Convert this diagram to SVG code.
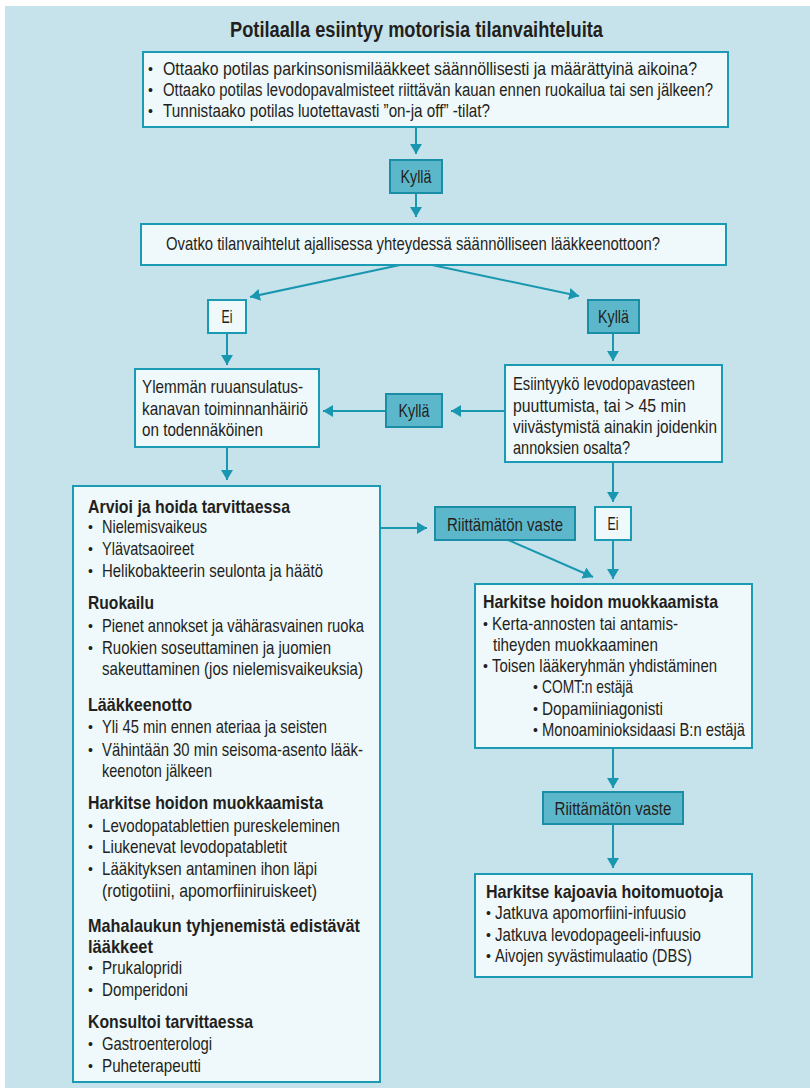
<svg xmlns="http://www.w3.org/2000/svg" width="810" height="1088" viewBox="0 0 810 1088">
<defs>
<style>
.bg{fill:#c6e3eb}
.box{fill:#eff8fa;stroke:#1b9bb3;stroke-width:2}
.lbl{fill:#5db7cb;stroke:#1a8ea7;stroke-width:2}
text{font-family:"Liberation Sans",Arial,sans-serif;font-size:19px;fill:#231f20}
.b{font-weight:bold}
.ttl{font-size:22px;font-weight:bold}
.bu{font-size:14px}
.c{text-anchor:middle}
.conn line{stroke:#1a97b0;stroke-width:2;fill:none;marker-end:url(#ah)}
</style>
<marker id="ah" viewBox="0 0 10 12" refX="10" refY="6" markerWidth="10" markerHeight="12" markerUnits="userSpaceOnUse" orient="auto">
<path d="M0,0 L10,6 L0,12 z" fill="#1a97b0"/>
</marker>
</defs>
<rect class="bg" x="5" y="6" width="805" height="1082"/>
<text class="ttl" x="230" y="37" textLength="373" lengthAdjust="spacingAndGlyphs">Potilaalla esiintyy motorisia tilanvaihteluita</text>

<g id="conn" class="conn">
<line x1="416" y1="127" x2="416" y2="154"/>
<line x1="416" y1="193" x2="416" y2="217"/>
<line x1="400" y1="265" x2="250" y2="297"/>
<line x1="432" y1="265" x2="579" y2="296"/>
<line x1="227" y1="333" x2="227" y2="365"/>
<line x1="227" y1="447" x2="227" y2="480"/>
<line x1="613" y1="333" x2="613" y2="361"/>
<line x1="505" y1="411" x2="451" y2="411"/>
<line x1="386" y1="411" x2="323" y2="411"/>
<line x1="613" y1="462" x2="613" y2="502"/>
<line x1="380" y1="528" x2="427" y2="528"/>
<line x1="613" y1="540" x2="613" y2="579"/>
<line x1="508" y1="540" x2="593" y2="577"/>
<line x1="613" y1="748" x2="613" y2="788"/>
<line x1="613" y1="824" x2="613" y2="868"/>
</g>

<g id="n-questions">
<rect class="box" x="143" y="52" width="585" height="75"/>
<text class="bu" x="148" y="74">•</text>
<text x="163" y="75" textLength="534" lengthAdjust="spacingAndGlyphs">Ottaako potilas parkinsonismilääkkeet säännöllisesti ja määrättyinä aikoina?</text>
<text class="bu" x="148" y="95">•</text>
<text transform="translate(163 96) scale(0.72 1)" x="0" y="0" textLength="764" lengthAdjust="spacingAndGlyphs">Ottaako potilas levodopavalmisteet riittävän kauan ennen ruokailua tai sen jälkeen?</text>
<text class="bu" x="148" y="116">•</text>
<text x="163" y="117" textLength="327" lengthAdjust="spacingAndGlyphs">Tunnistaako potilas luotettavasti ”on-ja off” -tilat?</text>
</g>

<g id="n-kylla1">
<rect class="lbl" x="390" y="160" width="52" height="33"/>
<text class="c" x="416" y="183" textLength="31" lengthAdjust="spacingAndGlyphs">Kyllä</text>
</g>

<g id="n-timing">
<rect class="box" x="141" y="224" width="585" height="41"/>
<text x="166" y="250" textLength="494" lengthAdjust="spacingAndGlyphs">Ovatko tilanvaihtelut ajallisessa yhteydessä säännölliseen lääkkeenottoon?</text>
</g>

<g id="n-ei1">
<rect class="box" x="208" y="300" width="38" height="33"/>
<text class="c" x="227" y="323" textLength="11" lengthAdjust="spacingAndGlyphs">Ei</text>
</g>

<g id="n-kylla2">
<rect class="lbl" x="588" y="300" width="51" height="33"/>
<text class="c" x="613.5" y="323" textLength="31" lengthAdjust="spacingAndGlyphs">Kyllä</text>
</g>

<g id="n-upper">
<rect class="box" x="135" y="369" width="184" height="78"/>
<text x="142" y="393" textLength="161" lengthAdjust="spacingAndGlyphs">Ylemmän ruuansulatus-</text>
<text x="142" y="415" textLength="166" lengthAdjust="spacingAndGlyphs">kanavan toiminnanhäiriö</text>
<text x="142" y="436" textLength="121" lengthAdjust="spacingAndGlyphs">on todennäköinen</text>
</g>

<g id="n-kylla3">
<rect class="lbl" x="386" y="394" width="56" height="33"/>
<text class="c" x="414" y="417" textLength="31" lengthAdjust="spacingAndGlyphs">Kyllä</text>
</g>

<g id="n-levodopa">
<rect class="box" x="505" y="365" width="217" height="97"/>
<text x="513" y="390" textLength="182" lengthAdjust="spacingAndGlyphs">Esiintyykö levodopavasteen</text>
<text x="513" y="412" textLength="173" lengthAdjust="spacingAndGlyphs">puuttumista, tai &gt; 45 min</text>
<text x="513" y="433" textLength="204" lengthAdjust="spacingAndGlyphs">viivästymistä ainakin joidenkin</text>
<text x="513" y="454" textLength="117" lengthAdjust="spacingAndGlyphs">annoksien osalta?</text>
</g>

<g id="n-riitt1">
<rect class="lbl" x="435" y="507" width="140" height="33"/>
<text class="c" x="505" y="531" textLength="116" lengthAdjust="spacingAndGlyphs">Riittämätön vaste</text>
</g>

<g id="n-ei2">
<rect class="box" x="595" y="507" width="36" height="33"/>
<text class="c" x="613" y="530" textLength="11" lengthAdjust="spacingAndGlyphs">Ei</text>
</g>

<g id="n-assess">
<rect class="box" x="73" y="486" width="307" height="596"/>
<text class="b" x="88" y="513" textLength="202" lengthAdjust="spacingAndGlyphs">Arvioi ja hoida tarvittaessa</text>
<text class="bu" x="88" y="532">•</text>
<text x="102" y="533" textLength="105" lengthAdjust="spacingAndGlyphs">Nielemisvaikeus</text>
<text class="bu" x="88" y="554">•</text>
<text x="102" y="555" textLength="92" lengthAdjust="spacingAndGlyphs">Ylävatsaoireet</text>
<text class="bu" x="88" y="576">•</text>
<text x="102" y="577" textLength="221" lengthAdjust="spacingAndGlyphs">Helikobakteerin seulonta ja häätö</text>
<text class="b" x="88" y="609" textLength="66" lengthAdjust="spacingAndGlyphs">Ruokailu</text>
<text class="bu" x="88" y="631">•</text>
<text x="102" y="632" textLength="262" lengthAdjust="spacingAndGlyphs">Pienet annokset ja vähärasvainen ruoka</text>
<text class="bu" x="88" y="653">•</text>
<text x="102" y="654" textLength="229" lengthAdjust="spacingAndGlyphs">Ruokien soseuttaminen ja juomien</text>
<text x="102" y="675" textLength="261" lengthAdjust="spacingAndGlyphs">sakeuttaminen (jos nielemisvaikeuksia)</text>
<text class="b" x="88" y="711" textLength="104" lengthAdjust="spacingAndGlyphs">Lääkkeenotto</text>
<text class="bu" x="88" y="732">•</text>
<text x="102" y="733" textLength="225" lengthAdjust="spacingAndGlyphs">Yli 45 min ennen ateriaa ja seisten</text>
<text class="bu" x="88" y="755">•</text>
<text x="102" y="756" textLength="261" lengthAdjust="spacingAndGlyphs">Vähintään 30 min seisoma-asento lääk-</text>
<text x="102" y="777" textLength="110" lengthAdjust="spacingAndGlyphs">keenoton jälkeen</text>
<text class="b" x="88" y="809" textLength="235" lengthAdjust="spacingAndGlyphs">Harkitse hoidon muokkaamista</text>
<text class="bu" x="88" y="831">•</text>
<text x="102" y="832" textLength="238" lengthAdjust="spacingAndGlyphs">Levodopatablettien pureskeleminen</text>
<text class="bu" x="88" y="852">•</text>
<text x="102" y="853" textLength="185" lengthAdjust="spacingAndGlyphs">Liukenevat levodopatabletit</text>
<text class="bu" x="88" y="874">•</text>
<text x="102" y="875" textLength="215" lengthAdjust="spacingAndGlyphs">Lääkityksen antaminen ihon läpi</text>
<text x="102" y="897" textLength="215" lengthAdjust="spacingAndGlyphs">(rotigotiini, apomorfiiniruiskeet)</text>
<text class="b" x="88" y="932" textLength="272" lengthAdjust="spacingAndGlyphs">Mahalaukun tyhjenemistä edistävät</text>
<text class="b" x="88" y="953" textLength="65" lengthAdjust="spacingAndGlyphs">lääkkeet</text>
<text class="bu" x="88" y="973">•</text>
<text x="102" y="974" textLength="80" lengthAdjust="spacingAndGlyphs">Prukalopridi</text>
<text class="bu" x="88" y="995">•</text>
<text x="102" y="996" textLength="86" lengthAdjust="spacingAndGlyphs">Domperidoni</text>
<text class="b" x="88" y="1028" textLength="165" lengthAdjust="spacingAndGlyphs">Konsultoi tarvittaessa</text>
<text class="bu" x="88" y="1049">•</text>
<text x="102" y="1050" textLength="110" lengthAdjust="spacingAndGlyphs">Gastroenterologi</text>
<text class="bu" x="88" y="1071">•</text>
<text x="102" y="1072" textLength="99" lengthAdjust="spacingAndGlyphs">Puheterapeutti</text>
</g>

<g id="n-modify">
<rect class="box" x="475" y="584" width="277" height="164"/>
<text class="b" x="483" y="608" textLength="235" lengthAdjust="spacingAndGlyphs">Harkitse hoidon muokkaamista</text>
<text class="bu" x="483" y="629">•</text>
<text x="492" y="630" textLength="186" lengthAdjust="spacingAndGlyphs">Kerta-annosten tai antamis-</text>
<text x="493" y="651" textLength="165" lengthAdjust="spacingAndGlyphs">tiheyden muokkaaminen</text>
<text class="bu" x="483" y="671">•</text>
<text x="492" y="672" textLength="225" lengthAdjust="spacingAndGlyphs">Toisen lääkeryhmän yhdistäminen</text>
<text class="bu" x="533" y="692">•</text>
<text x="542" y="693" textLength="91" lengthAdjust="spacingAndGlyphs">COMT:n estäjä</text>
<text class="bu" x="533" y="714">•</text>
<text x="542" y="715" textLength="121" lengthAdjust="spacingAndGlyphs">Dopamiiniagonisti</text>
<text class="bu" x="533" y="735">•</text>
<text x="542" y="736" textLength="203" lengthAdjust="spacingAndGlyphs">Monoaminioksidaasi B:n estäjä</text>
</g>

<g id="n-riitt2">
<rect class="lbl" x="543" y="792" width="140" height="32"/>
<text class="c" x="613" y="815" textLength="117" lengthAdjust="spacingAndGlyphs">Riittämätön vaste</text>
</g>

<g id="n-invasive">
<rect class="box" x="475" y="874" width="277" height="103"/>
<text class="b" x="486" y="898" textLength="237" lengthAdjust="spacingAndGlyphs">Harkitse kajoavia hoitomuotoja</text>
<text class="bu" x="486" y="918">•</text>
<text x="495" y="919" textLength="191" lengthAdjust="spacingAndGlyphs">Jatkuva apomorfiini-infuusio</text>
<text class="bu" x="486" y="940">•</text>
<text x="495" y="941" textLength="206" lengthAdjust="spacingAndGlyphs">Jatkuva levodopageeli-infuusio</text>
<text class="bu" x="486" y="961">•</text>
<text x="495" y="962" textLength="197" lengthAdjust="spacingAndGlyphs">Aivojen syvästimulaatio (DBS)</text>
</g>
</svg>
